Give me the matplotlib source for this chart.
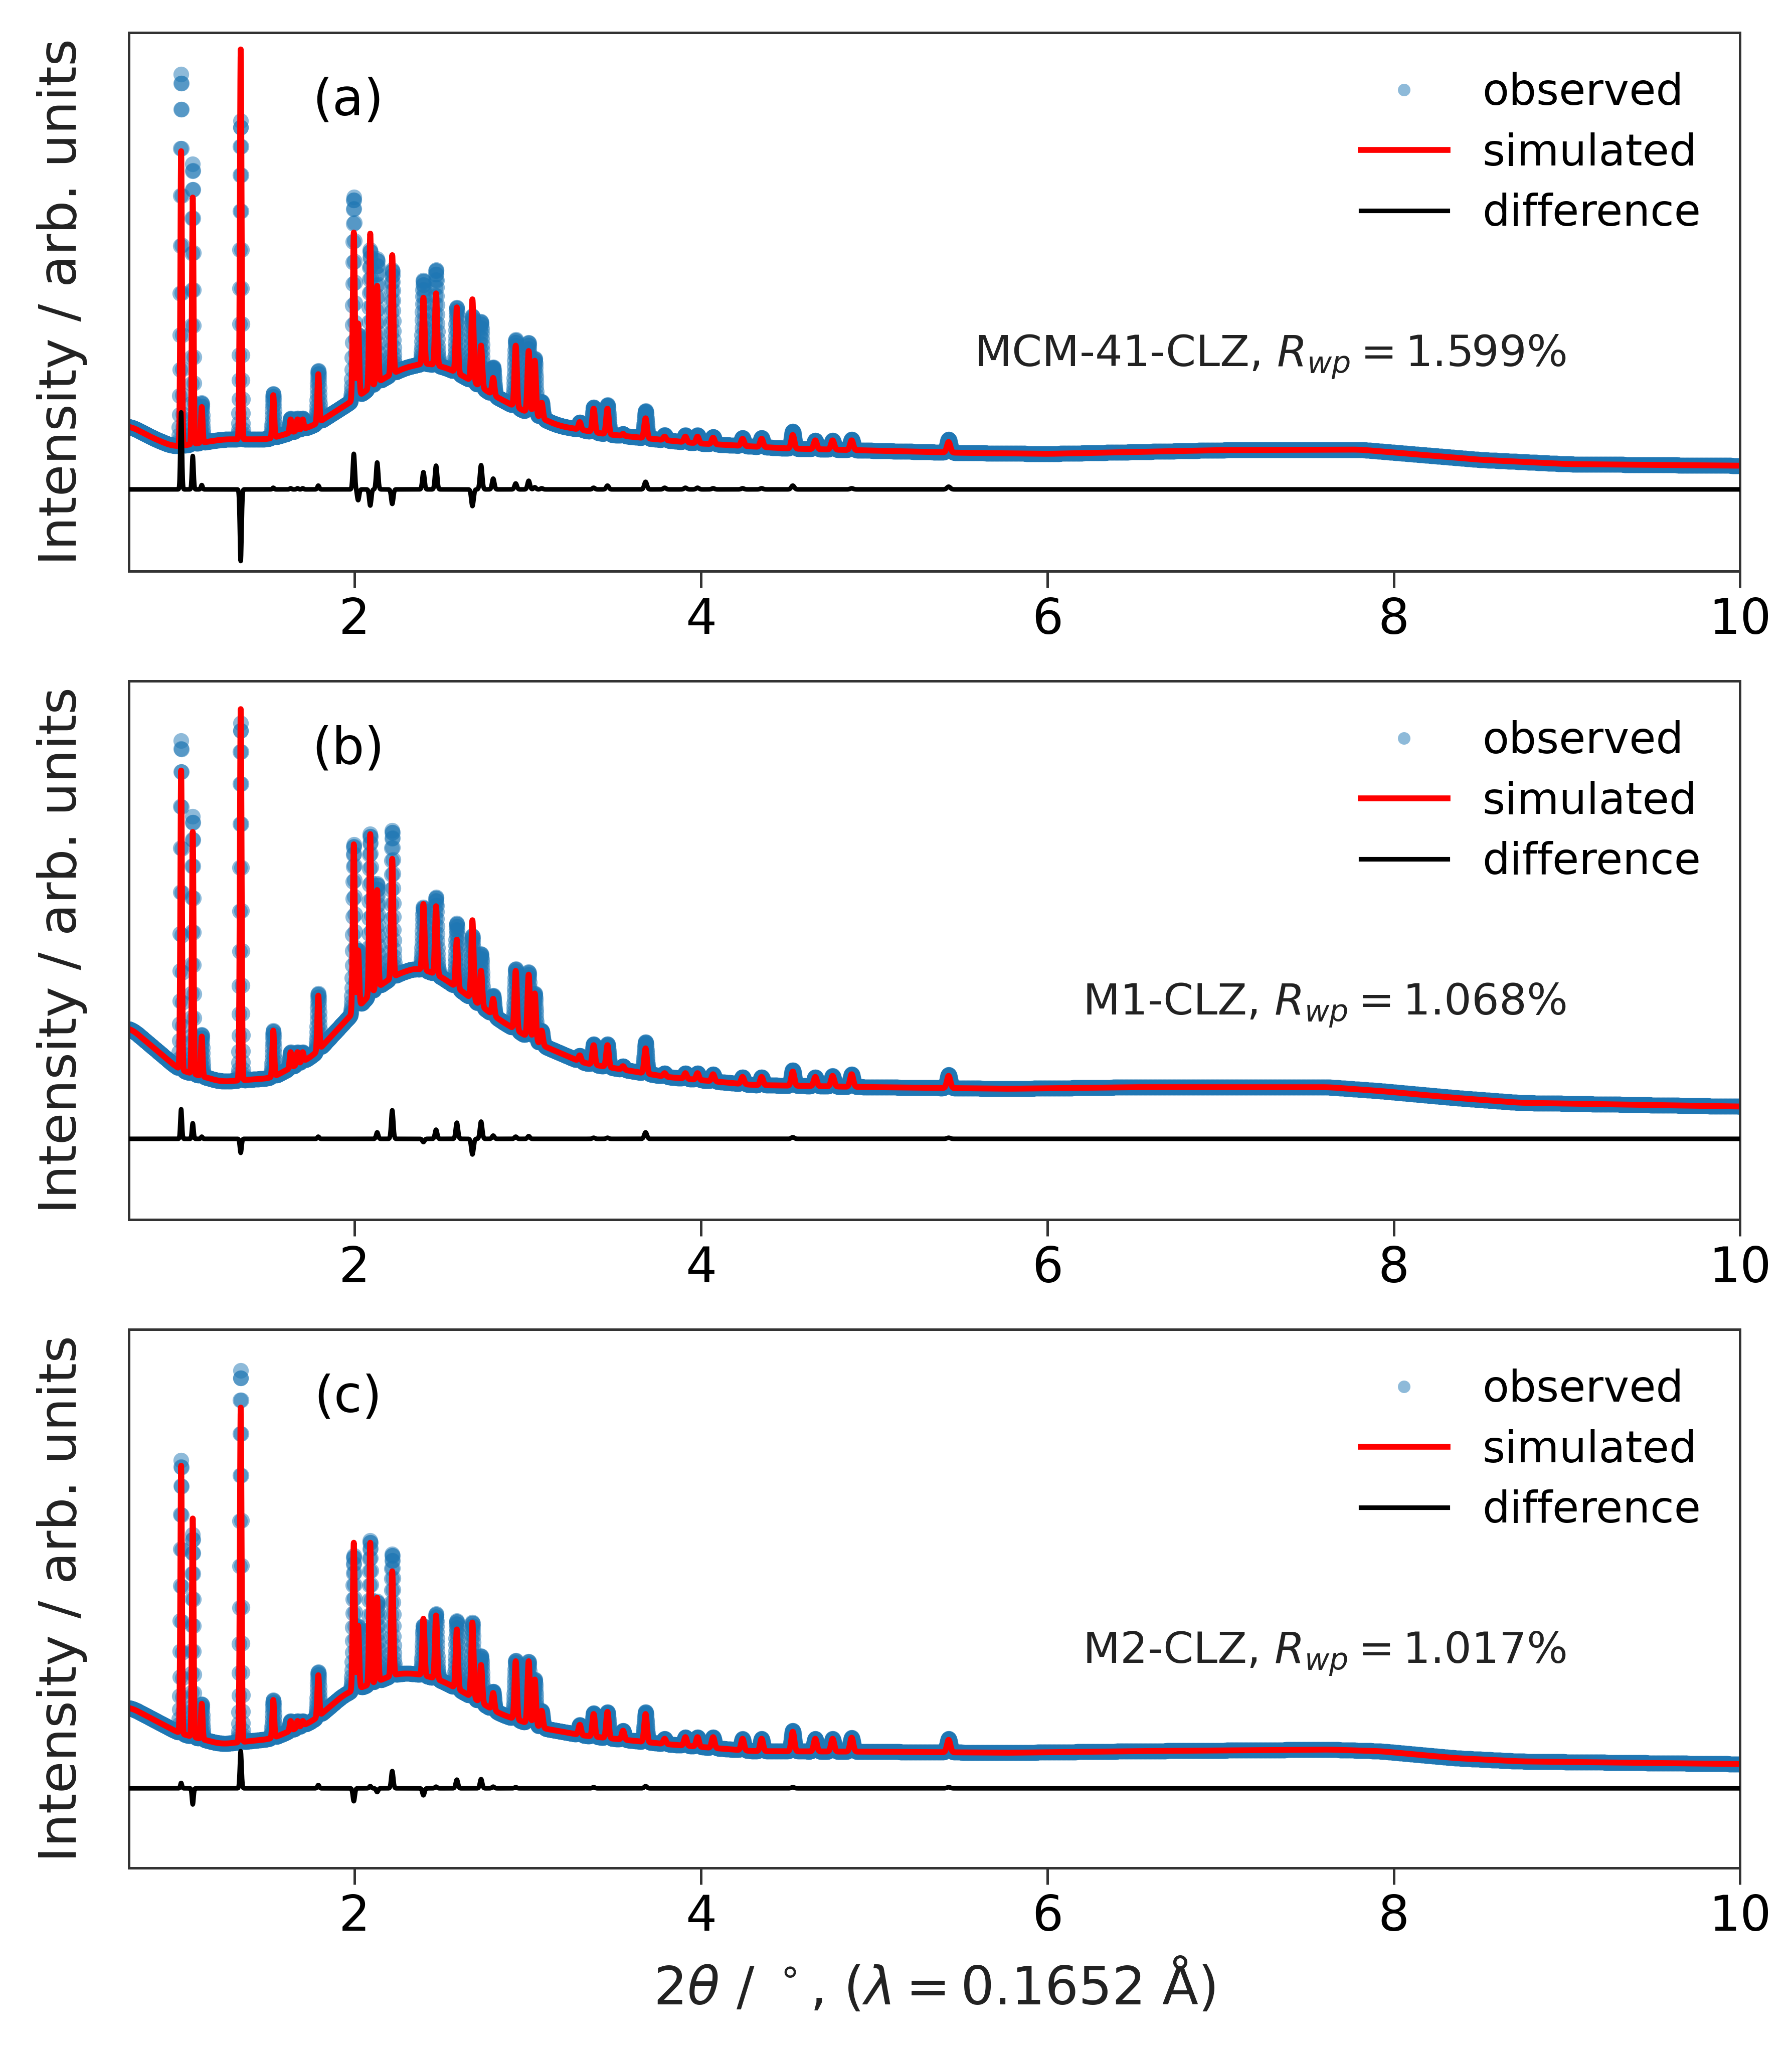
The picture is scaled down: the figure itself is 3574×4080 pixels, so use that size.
import numpy as np
import matplotlib
matplotlib.use("Agg")
import matplotlib.pyplot as plt

# peak positions (2theta, deg) shared by the three patterns
peak_pos = [0.998, 1.065, 1.117, 1.342, 1.53, 1.63, 1.67, 1.70, 1.79,
            1.995, 2.02, 2.09, 2.13, 2.217, 2.397, 2.47, 2.59, 2.68, 2.73,
            2.80, 2.93, 3.005, 3.04, 3.08, 3.30, 3.38, 3.46, 3.55, 3.68,
            3.79, 3.91, 3.98, 4.07, 4.24, 4.35, 4.53, 4.66, 4.76, 4.87, 5.43]

# background knots (2theta, intensity in % of panel height)
bg_x_a = [0.70, 0.85, 0.96, 1.24, 1.50, 1.76, 1.97, 2.15, 2.28, 2.41, 2.54, 2.67,
          2.80, 2.93, 3.18, 3.44, 3.96, 4.5, 5.0, 5.5, 6.0, 7.0, 7.8, 8.5, 9.0, 10.0]
bg_y_a = [27.0, 24.5, 23.1, 24.5, 24.5, 27.0, 31.3, 35.5, 37.7, 38.7, 37.7, 35.5,
          32.7, 30.5, 27.0, 25.5, 23.8, 22.8, 22.4, 22.0, 21.8, 22.5, 22.6, 20.7, 19.9, 19.6]
bg_x_b = [0.70, 0.99, 1.23, 1.52, 1.76, 1.95, 2.12, 2.24, 2.36, 2.48, 2.60, 2.84,
          3.08, 3.32, 3.80, 4.30, 5.0, 5.77, 6.51, 7.62, 7.92, 8.36, 8.73, 10.0]
bg_y_b = [35.7, 27.8, 25.6, 26.3, 30.4, 37.0, 42.9, 45.5, 46.8, 45.5, 42.9, 37.0,
          32.4, 29.1, 26.5, 25.0, 24.6, 24.3, 24.6, 24.6, 23.9, 22.6, 21.7, 21.0]
bg_x_c = [0.70, 0.99, 1.23, 1.52, 1.76, 1.95, 2.12, 2.24, 2.36, 2.48, 2.60, 2.84,
          3.08, 3.32, 3.80, 4.30, 5.0, 5.77, 6.51, 7.62, 7.92, 8.36, 8.73, 10.0]
bg_y_c = [29.9, 25.0, 23.0, 24.0, 27.3, 32.5, 34.5, 36.1, 36.1, 35.1, 33.2, 28.6,
          26.0, 24.6, 23.0, 21.7, 21.6, 21.4, 21.7, 22.0, 21.7, 20.4, 19.8, 19.3]

# peak tops (observed / simulated), % of panel height
obs_a = [92.3, 75.6, 31.3, 83.6, 33.0, 28.4, 28.4, 28.4, 37.3, 69.5, 44.0, 59.7, 58.0,
         56.0, 54.0, 56.0, 49.0, 47.4, 46.4, 37.9, 43.0, 42.5, 39.5, 31.5, 27.7, 30.5,
         30.9, 25.5, 29.8, 25.3, 25.3, 25.3, 25.0, 24.8, 24.8, 26.0, 24.3, 24.3, 24.5, 24.5]
sim_a = [78.0, 69.4, 30.5, 96.9, 32.7, 28.2, 28.2, 28.2, 36.6, 62.9, 46.0, 62.7, 53.0,
         58.7, 50.8, 51.6, 49.0, 50.5, 41.9, 35.9, 41.9, 40.9, 39.1, 31.3, 27.7, 30.2,
         30.2, 25.5, 28.4, 25.0, 25.0, 25.0, 24.8, 24.6, 24.6, 25.3, 24.3, 24.3, 24.3, 24.0]
obs_b = [88.9, 74.9, 34.4, 92.2, 35.1, 31.1, 31.1, 31.1, 42.0, 69.7, 50.0, 71.6, 62.4,
         72.3, 58.0, 59.9, 55.0, 52.7, 49.4, 41.6, 46.6, 46.0, 42.0, 35.1, 30.5, 32.6,
         32.6, 28.5, 33.0, 27.2, 27.2, 27.2, 27.0, 26.5, 26.5, 27.8, 26.5, 26.7, 27.0, 26.9]
sim_b = [83.4, 72.0, 34.0, 94.8, 35.1, 31.1, 31.1, 31.1, 41.6, 69.7, 50.0, 71.6, 61.2,
         67.0, 58.6, 58.2, 52.0, 55.6, 46.2, 41.0, 46.2, 45.5, 42.0, 35.1, 30.5, 32.4,
         32.4, 28.5, 31.8, 27.2, 27.2, 27.2, 27.0, 26.5, 26.5, 27.5, 26.5, 26.7, 27.0, 26.7]
obs_c = [75.7, 61.9, 30.5, 92.4, 31.2, 27.3, 27.3, 27.3, 36.4, 58.0, 45.0, 60.8, 49.5,
         58.3, 45.0, 47.2, 45.9, 45.6, 39.4, 32.8, 38.6, 38.4, 35.0, 29.2, 26.6, 28.8,
         29.0, 25.5, 29.0, 24.0, 24.3, 24.3, 24.3, 24.0, 24.0, 25.5, 24.0, 24.0, 24.2, 24.0]
sim_c = [74.7, 64.9, 30.5, 85.5, 31.2, 27.3, 27.3, 27.3, 35.8, 60.4, 45.0, 60.4, 50.2,
         55.1, 46.3, 46.9, 44.3, 45.6, 37.7, 32.5, 38.4, 38.4, 35.0, 29.2, 26.6, 28.6,
         29.0, 25.5, 28.6, 24.0, 24.3, 24.3, 24.3, 24.0, 24.0, 25.3, 24.0, 24.0, 24.2, 23.8]

diff_offsets = [15.2, 15.0, 14.8]
panel_tags = ['(a)', '(b)', '(c)']
sample_names = ['MCM-41-CLZ', 'M1-CLZ', 'M2-CLZ']
rwp_values = ['1.599', '1.068', '1.017']

panels = [(bg_x_a, bg_y_a, obs_a, sim_a),
          (bg_x_b, bg_y_b, obs_b, sim_b),
          (bg_x_c, bg_y_c, obs_c, sim_c)]

tth = np.arange(0.697, 10.0005, 0.001)


def background(kx, ky):
    lin = np.interp(tth, kx, ky)
    k = 101
    padded = np.pad(lin, k // 2, mode='edge')
    return np.convolve(padded, np.ones(k) / k, mode='valid')


def pattern(bg, tops):
    y = bg.copy()
    for p, t in zip(peak_pos, tops):
        w = 0.0045 + 0.0012 * (p - 1.0)
        amp = t - np.interp(p, tth, bg)
        y += amp * np.exp(-0.5 * ((tth - p) / w) ** 2)
    return y


fig = plt.figure(figsize=(3574 / 300, 4080 / 300), dpi=300)
bottoms = [0.7208, 0.4039, 0.0870]

for i, (kx, ky, obs_tops, sim_tops) in enumerate(panels):
    ax = fig.add_axes([0.072, bottoms[i], 0.899, 0.2632])
    bg = background(kx, ky)
    y_obs = pattern(bg, obs_tops)
    y_sim = pattern(bg, sim_tops)
    y_diff = y_obs - y_sim + diff_offsets[i]

    ax.plot(tth, y_obs, 'o', ls='none', ms=7.5, mew=0, color='#1f77b4', alpha=0.5,
            label='observed', zorder=1)
    ax.plot(tth, y_sim, color='red', lw=2.8, label='simulated', zorder=2)
    ax.plot(tth, y_diff, color='black', lw=2.2, label='difference', zorder=3)

    ax.set_xlim(0.697, 10)
    ax.set_ylim(0, 100)
    ax.set_yticks([])
    ax.set_xticks([2, 4, 6, 8, 10])
    ax.tick_params(axis='x', labelsize=23.5, length=8, width=1.2, pad=4, color='#333333')
    for s in ax.spines.values():
        s.set_color('#333333')
        s.set_linewidth(1.2)
    ax.set_ylabel('Intensity / arb. units', fontsize=25, labelpad=20, color='#222222')

    ax.legend(loc='upper right', frameon=False, fontsize=20.8, numpoints=1,
              markerscale=0.8, labelspacing=0.42)
    ax.text(0.136, 0.873, panel_tags[i], transform=ax.transAxes, fontsize=24.5,
            ha='center', va='center')
    ax.text(0.892, 0.381, sample_names[i] + r', $R_{wp} = ' + rwp_values[i] + r'$%',
            transform=ax.transAxes, fontsize=20.7, ha='right', va='baseline', color='#222222')

    if i == 2:
        ax.set_xlabel(r'$2\theta$ / $^\circ$, ($\lambda = 0.1652$ Å)', fontsize=25.3,
                      labelpad=8, color='#222222')

fig.savefig('out.png', dpi=300)
